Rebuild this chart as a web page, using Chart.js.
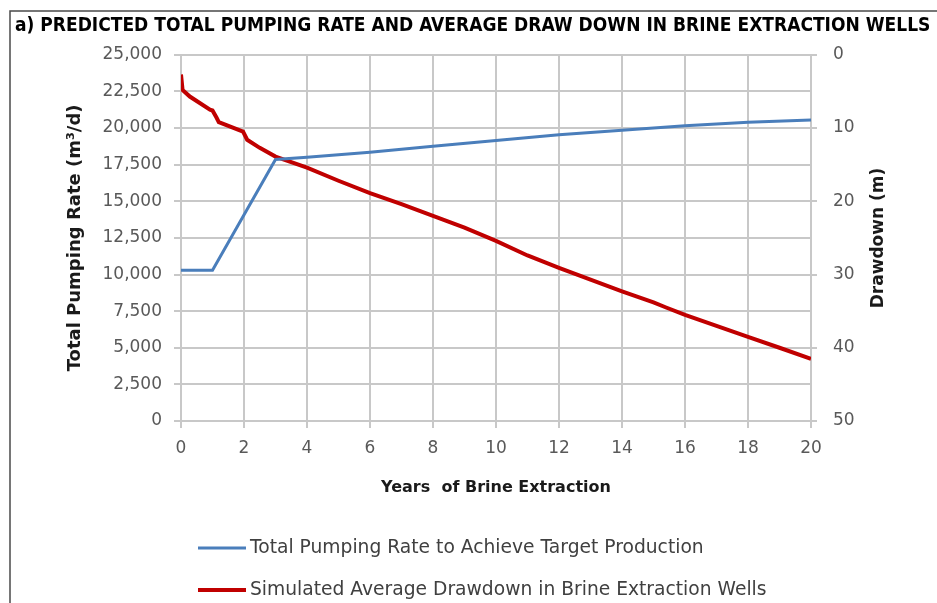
<!DOCTYPE html>
<html>
<head>
<meta charset="utf-8">
<script src="https://cdn.jsdelivr.net/npm/chart.js@4/dist/chart.umd.min.js"></script>
<style>
  html, body { margin: 0; padding: 0; background: #fff; }
  #wrap { width: 937px; height: 603px; }
</style>
</head>
<body>
<div id="wrap"><canvas id="brineChart" width="937" height="603"></canvas></div>
<script>
const pumpYears = [0, 1, 3, 4, 6, 8, 10, 12, 14, 16, 18, 20];
const pumpRate = [10300, 10300, 17850, 18000, 18350, 18750, 19150, 19550, 19850, 20150, 20400, 20550];

const drawYears = [0, 0.05, 0.28, 0.92, 1.0, 1.13, 1.2, 1.97, 2.1, 2.5, 3, 4, 5, 6, 7, 8, 9, 10, 11, 12, 13, 14, 15, 15.4, 16, 17, 18, 19, 20];
const drawdown = [2.7, 4.8, 5.7, 7.5, 7.6, 8.6, 9.2, 10.5, 11.6, 12.7, 13.9, 15.4, 17.2, 18.9, 20.4, 22.0, 23.6, 25.4, 27.4, 29.1, 30.7, 32.3, 33.8, 34.5, 35.5, 37.0, 38.5, 40.0, 41.5];

const rateTicks = { min: 0, max: 25000, step: 2500 };
const drawTicks = { min: 0, max: 50, step: 10 };
const yearTicks = { min: 0, max: 20, step: 2 };

const titleText = 'a) PREDICTED TOTAL PUMPING RATE AND AVERAGE DRAW DOWN IN BRINE EXTRACTION WELLS';
const seriesLabels = ['Total Pumping Rate to Achieve Target Production', 'Simulated Average Drawdown in Brine Extraction Wells'];

const gridColor = '#c8c8c8';
const tickColor = '#595959';
const baseFont = 'DejaVu Sans';

const toPoints = (xs, ys) => xs.map((x, i) => ({ x, y: ys[i] }));

// frame, right-hand title (reads bottom to top) and the stacked legend
const extras = {
    id: 'extras',
    afterDraw(chart) {
        const ctx = chart.ctx;
        ctx.save();
        ctx.strokeStyle = '#4a4a4a';
        ctx.lineWidth = 1.5;
        ctx.beginPath();
        ctx.moveTo(10, 603);
        ctx.lineTo(10, 11);
        ctx.lineTo(937, 11);
        ctx.stroke();

        ctx.fillStyle = '#1a1a1a';
        ctx.font = `bold 17px "${baseFont}"`;
        ctx.textAlign = 'center';
        ctx.textBaseline = 'middle';
        ctx.translate(879, 238);
        ctx.rotate(-Math.PI / 2);
        ctx.fillText('Drawdown (m)', 0, 0);
        ctx.restore();

        ctx.save();
        ctx.font = `18.7px "${baseFont}"`;
        ctx.textBaseline = 'middle';
        ctx.fillStyle = '#404040';
        const rows = [548, 590];
        chart.data.datasets.forEach((ds, i) => {
            ctx.strokeStyle = ds.borderColor;
            ctx.lineWidth = ds.borderWidth;
            ctx.beginPath();
            ctx.moveTo(198, rows[i]);
            ctx.lineTo(246, rows[i]);
            ctx.stroke();
            ctx.fillText(ds.label, 250, rows[i]);
        });
        ctx.restore();
    }
};

new Chart(document.getElementById('brineChart'), {
    type: 'line',
    data: {
        datasets: [
            {
                label: seriesLabels[0],
                data: toPoints(pumpYears, pumpRate),
                borderColor: '#4a7ebb',
                borderWidth: 3,
                pointRadius: 0,
                tension: 0,
                yAxisID: 'y'
            },
            {
                label: seriesLabels[1],
                data: toPoints(drawYears, drawdown),
                borderColor: '#c00000',
                borderWidth: 4,
                pointRadius: 0,
                tension: 0,
                yAxisID: 'y1'
            }
        ]
    },
    options: {
        responsive: false,
        animation: false,
        layout: { padding: { left: 15, right: 0, top: 0, bottom: 102 } },
        plugins: {
            legend: { display: false },
            tooltip: { enabled: false },
            title: {
                display: true,
                text: titleText,
                align: 'start',
                color: '#000',
                font: { family: 'DejaVu Sans Condensed', size: 19, weight: 'bold' },
                padding: { top: 15, bottom: 17 }
            }
        },
        scales: {
            x: {
                type: 'linear',
                min: yearTicks.min,
                max: yearTicks.max,
                afterFit: (s) => { s.height = 80; },
                ticks: { stepSize: yearTicks.step, color: tickColor, font: { family: baseFont, size: 17 }, padding: 10 },
                grid: { color: gridColor, lineWidth: 2, tickLength: 7 },
                border: { color: gridColor, width: 2 },
                title: {
                    display: true,
                    text: 'Years  of Brine Extraction',
                    color: '#1a1a1a',
                    font: { family: baseFont, size: 16, weight: 'bold' },
                    padding: { top: 0, bottom: 4 }
                }
            },
            y: {
                position: 'left',
                min: rateTicks.min,
                max: rateTicks.max,
                afterFit: (s) => { s.width = 166; },
                ticks: {
                    stepSize: rateTicks.step,
                    color: tickColor,
                    font: { family: baseFont, size: 17 },
                    padding: 12,
                    callback: (v) => Number(v).toLocaleString('en-US')
                },
                grid: { color: gridColor, lineWidth: 2, tickLength: 7 },
                border: { color: gridColor, width: 2 },
                title: {
                    display: true,
                    text: 'Total Pumping Rate (m³/d)',
                    color: '#1a1a1a',
                    font: { family: baseFont, size: 18, weight: 'bold' },
                    padding: { top: 50, bottom: 0 }
                }
            },
            y1: {
                position: 'right',
                reverse: true,
                min: drawTicks.min,
                max: drawTicks.max,
                afterFit: (s) => { s.width = 126; },
                ticks: { stepSize: drawTicks.step, color: tickColor, font: { family: baseFont, size: 17 }, padding: 16 },
                grid: { drawOnChartArea: false, color: gridColor, lineWidth: 2, tickLength: 6 },
                border: { color: gridColor, width: 2 }
            }
        }
    },
    plugins: [extras]
});
</script>
</body>
</html>
